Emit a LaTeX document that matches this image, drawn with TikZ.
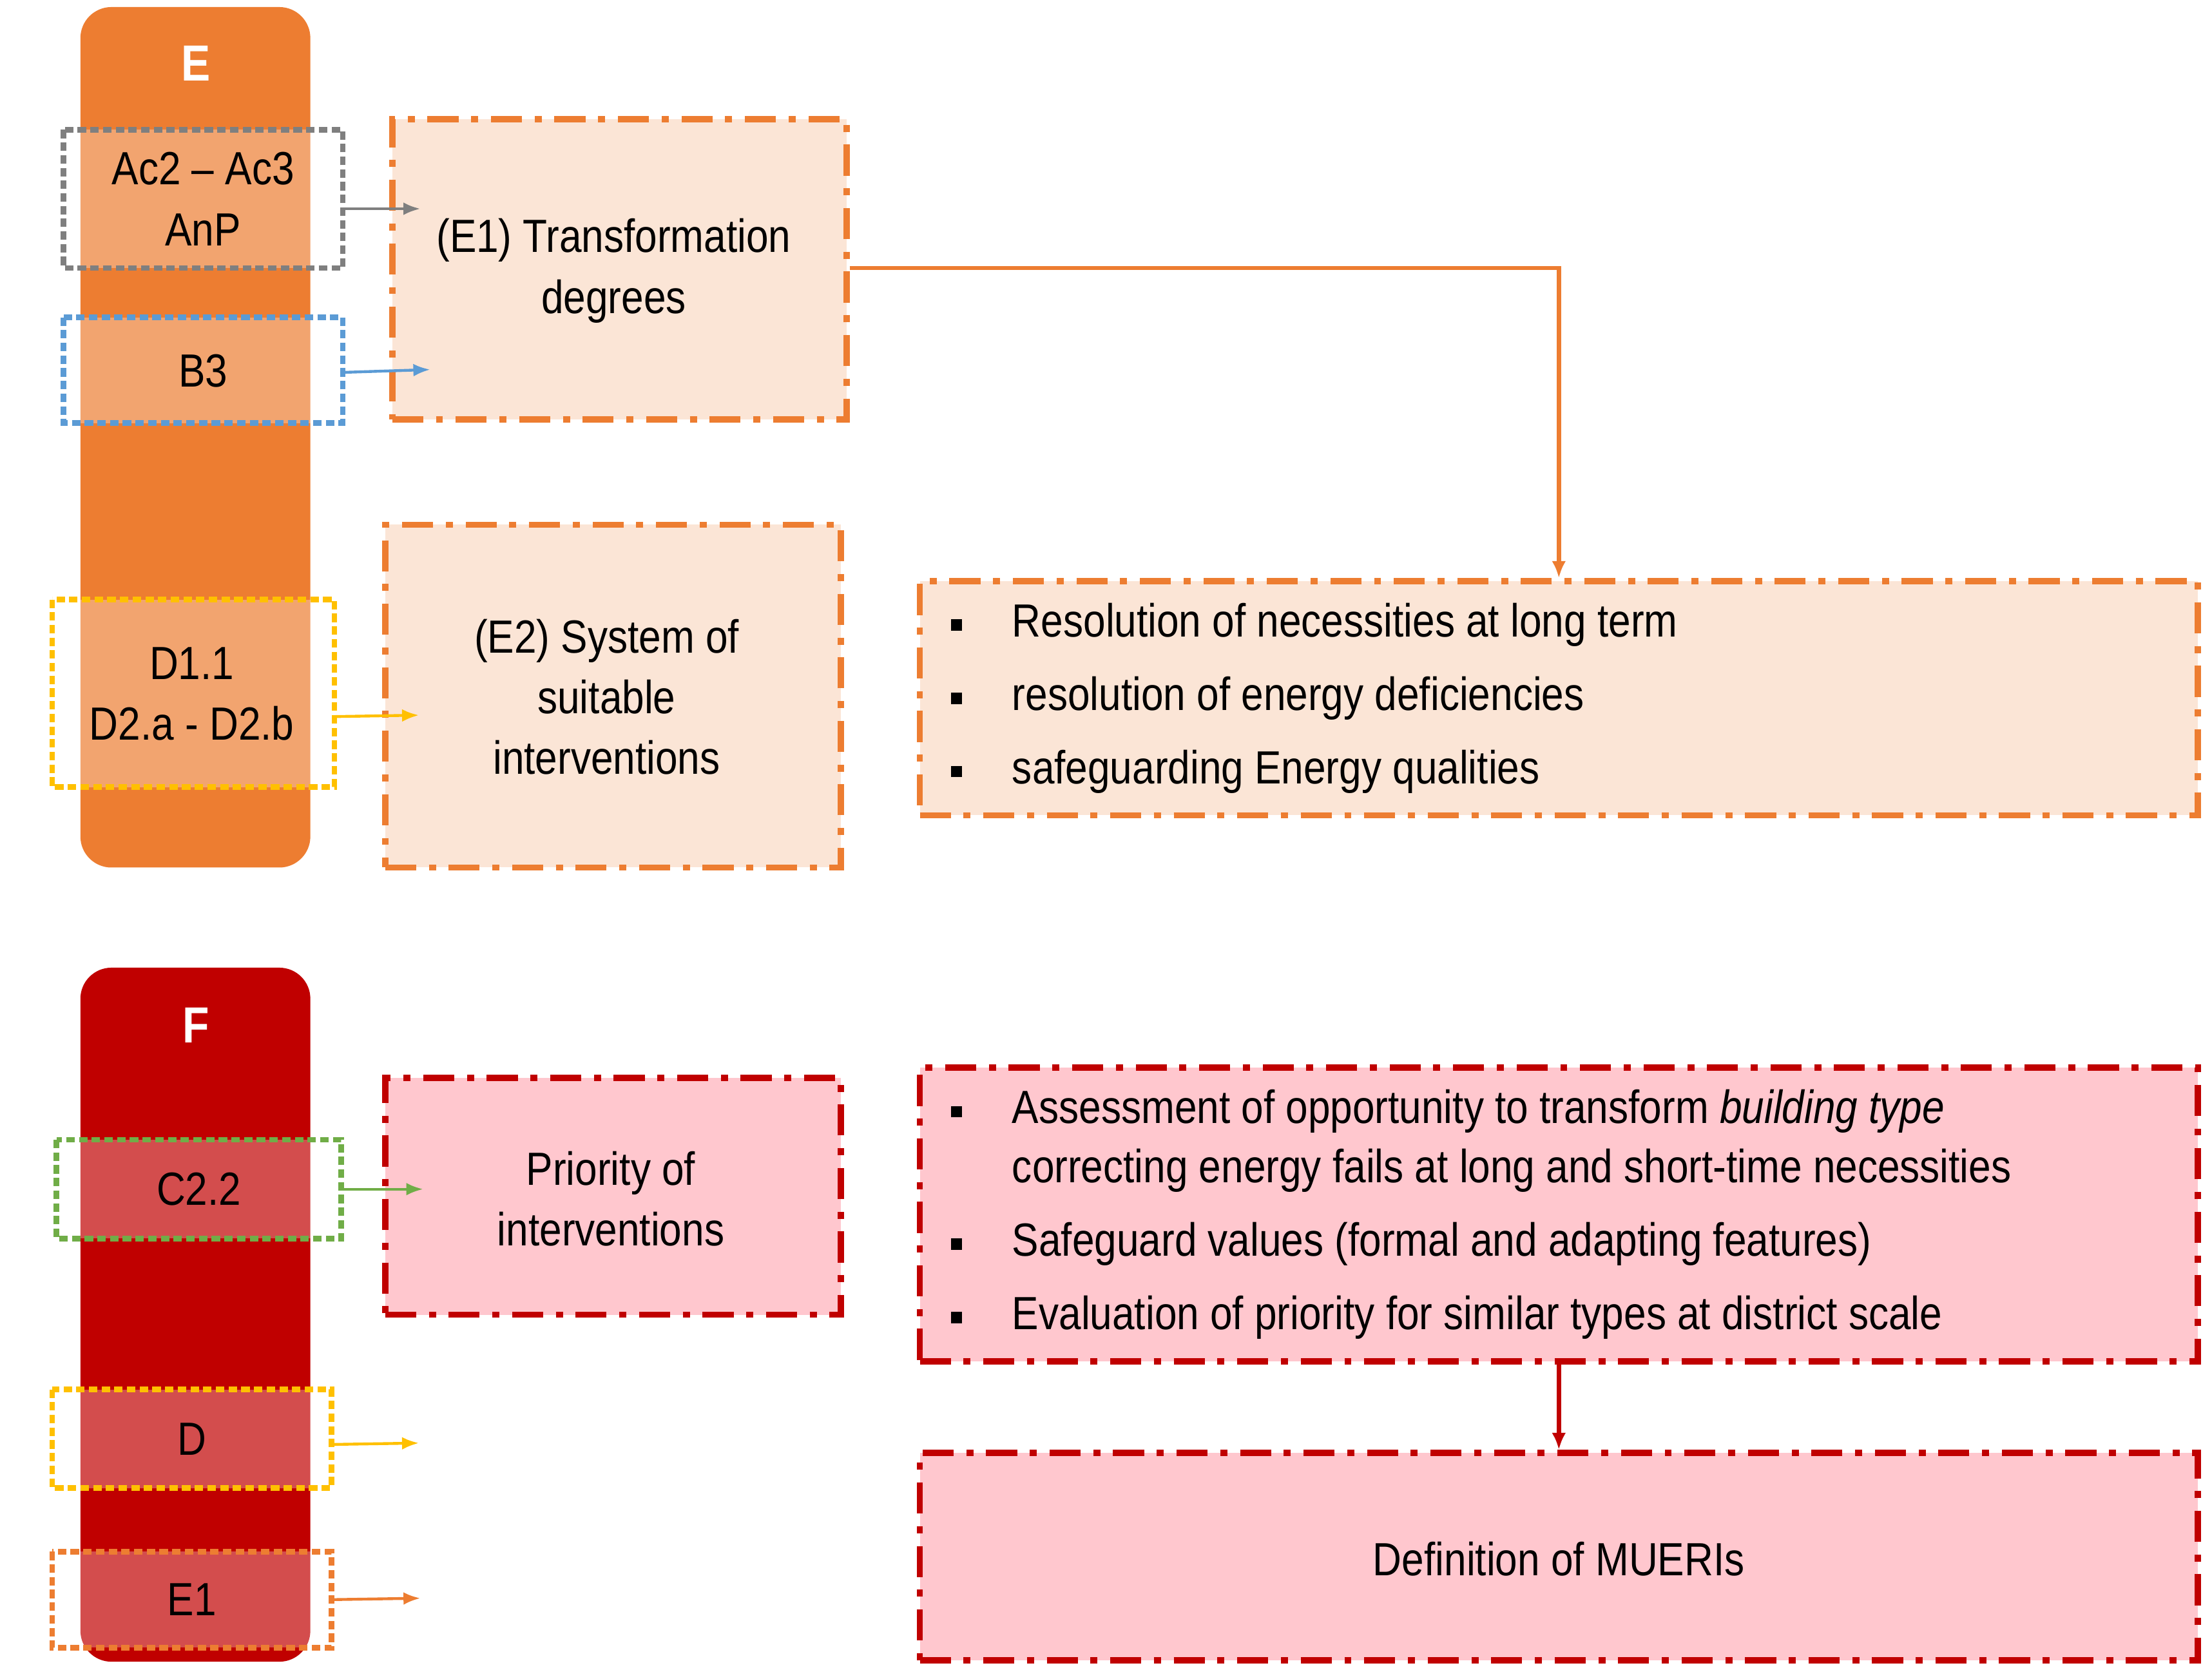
\documentclass[tikz,border=0pt]{standalone}
\usepackage{fontspec}
\setmainfont{Liberation Sans}[FakeStretch=0.86]
\usetikzlibrary{arrows.meta}
\definecolor{eor}{HTML}{ED7D31}
\definecolor{fred}{HTML}{C00000}
\definecolor{epink}{HTML}{FBE5D6}
\definecolor{fpink}{HTML}{FFC7CE}
\definecolor{gy}{HTML}{7F7F7F}
\definecolor{bl}{HTML}{5B9BD5}
\definecolor{yl}{HTML}{FFC000}
\definecolor{gr}{HTML}{70AD47}
\begin{document}
\begin{tikzpicture}[x=1pt,y=-1pt,
  txt/.style={font=\fontsize{33}{43}\selectfont,align=center},
  col/.style={rounded corners=22pt},
  tag/.style={draw=#1,line width=4pt,dash pattern=on 6pt off 3pt,fill=white,fill opacity=0.3,text opacity=1},
  arr/.style={-{Latex[length=12pt,width=9pt]},line width=2pt,draw=#1},
  big/.style={draw=#1,line width=4.5pt,dash pattern=on 22pt off 9pt on 5pt off 9pt},
  bul/.style={fill=black,minimum size=8pt,inner sep=0pt}]
\useasboundingbox (0,0) rectangle (1568,1190);
\fill[white] (0,0) rectangle (1568,1190);
% E column
\fill[eor,col] (57,5) rectangle (220,615);
\node[text=white,font=\fontsize{36}{40}\selectfont\bfseries] (E) at (139,45) {E};
\draw[tag=gy] (45,92) rectangle (243,190);
\node[txt] (ac) at (144,141) {Ac2 -- Ac3\\AnP};
\draw[tag=bl] (45,225) rectangle (243,300);
\node[txt] (b3) at (144,263) {B3};
\draw[tag=yl] (37,425) rectangle (237,558);
\node[txt] (d11) at (136,492) {D1.1\\D2.a - D2.b};
\node[big=eor,fill=epink,minimum width=322pt,minimum height=213pt] (e1) at (439,191) {};
\node[txt] at (435,192) {(E1) Transformation\\degrees};
\node[big=eor,fill=epink,minimum width=323pt,minimum height=243pt] (e2) at (434.5,493.5) {};
\node[txt] at (430,494) {(E2) System of\\suitable\\interventions};
\coordinate (a1s) at (243,148); \coordinate (a1e) at (298,148);
\coordinate (a2s) at (243,264); \coordinate (a2e) at (305,262);
\coordinate (a3s) at (237,508); \coordinate (a3e) at (297,507);
\node[big=eor,fill=epink,minimum width=906pt,minimum height=166pt] (l1) at (1105,495) {};
\foreach \y/\t in {443/Resolution of necessities at long term,495/resolution of energy deficiencies,547/safeguarding Energy qualities}{
  \node[bul] at (678,\y) {};
  \node[txt,anchor=west] at (714,\y) {\t};}
\draw[eor,line width=3pt,-{Latex[length=12pt,width=10pt]}] (e1.east |- 0,190) -- (1105,190) -- (l1.north);
% F column
\fill[fred,col] (57,686) rectangle (220,1178);
\node[text=white,font=\fontsize{36}{40}\selectfont\bfseries] (F) at (139,727) {F};
\draw[tag=gr] (40,808) rectangle (242,878);
\node[txt] (c22) at (141,843) {C2.2};
\draw[tag=yl] (37,985) rectangle (235,1055);
\node[txt] (d) at (136,1020) {D};
\draw[tag=eor] (37,1100) rectangle (235,1168);
\node[txt] (ee1) at (136,1134) {E1};
\coordinate (b1s) at (242,843); \coordinate (b1e) at (300,843);
\coordinate (b2s) at (235,1024); \coordinate (b2e) at (297,1023);
\coordinate (b3s) at (235,1134); \coordinate (b3e) at (298,1133);
\node[big=fred,fill=fpink,minimum width=323pt,minimum height=168pt] (pr) at (434.5,848) {};
\node[txt] at (433,850) {Priority of\\interventions};
\draw[arr=gy] (a1s) -- (a1e);
\draw[arr=bl] (a2s) -- (a2e);
\draw[arr=yl] (a3s) -- (a3e);
\draw[arr=gr] (b1s) -- (b1e);
\draw[arr=yl] (b2s) -- (b2e);
\draw[arr=eor] (b3s) -- (b3e);
\node[big=fred,fill=fpink,minimum width=906pt,minimum height=208pt] (l2) at (1105,861) {};
\node[bul] at (678,788) {};
\node[txt,anchor=west] at (714,788) {Assessment of opportunity to transform \textit{building type}};
\node[txt,anchor=west] at (714,830) {correcting energy fails at long and short-time necessities};
\node[bul] at (678,882) {};
\node[txt,anchor=west] at (714,882) {Safeguard values (formal and adapting features)};
\node[bul] at (678,934) {};
\node[txt,anchor=west] at (714,934) {Evaluation of priority for similar types at district scale};
\node[big=fred,fill=fpink,minimum width=906pt,minimum height=147pt] (mu) at (1105,1103.5) {};
\node[txt] at (1105,1105) {Definition of MUERIs};
\draw[fred,line width=3pt,-{Latex[length=12pt,width=10pt]}] (l2.south) -- (mu.north);
\end{tikzpicture}
\end{document}
